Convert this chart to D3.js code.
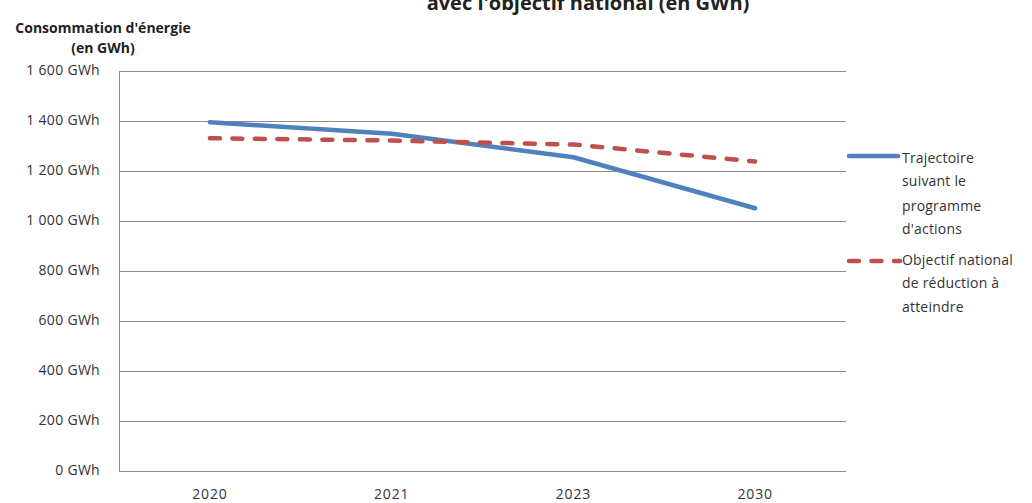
<!DOCTYPE html>
<html><head><meta charset="utf-8">
<script src="https://cdn.jsdelivr.net/npm/d3@7"></script>
<style>
html,body{margin:0;padding:0;background:#fff;}
svg{display:block;}
</style>
</head><body>
<svg id="c" width="1032" height="503"></svg>
<script>
const categories = ["2020", "2021", "2023", "2030"];
const trajectoire = [1393, 1347, 1253, 1049];
const objectif = [1329, 1320, 1304, 1236];
const yTicks = [0, 200, 400, 600, 800, 1000, 1200, 1400, 1600];
const seriesNames = [["Trajectoire", "suivant le", "programme", "d'actions"], ["Objectif national", "de réduction à", "atteindre"]];
const titleText = "avec l'objectif national (en GWh)";
const yTitle = ["Consommation d'énergie", "(en GWh)"];

(function () {
const svg = d3.select("#c");
const mLeft = 119, mRight = 846, mTop = 70.5, mBottom = 470.5;
const font = "'Open Sans', 'Noto Sans', sans-serif";

const x = d3.scaleBand().domain(categories).range([mLeft, mRight]);
const y = d3.scaleLinear().domain([0, 1600]).range([mBottom, mTop]);
const fmt = v => d3.format(",")(v).replace(/,/g, " ") + " GWh";

svg.append("g").selectAll("line").data(yTicks).join("line")
  .attr("x1", mLeft).attr("x2", mRight)
  .attr("y1", d => Math.round(y(d)) + 0.5).attr("y2", d => Math.round(y(d)) + 0.5)
  .attr("stroke", "#8c8c8c").attr("stroke-width", 1);

svg.append("line").attr("x1", mLeft + 0.5).attr("x2", mLeft + 0.5)
  .attr("y1", Math.round(y(1600)) + 0.5).attr("y2", Math.round(y(0)) + 0.5)
  .attr("stroke", "#8c8c8c");

const yAxis = d3.axisLeft(y).tickValues(yTicks).tickFormat(fmt).tickSize(0).tickPadding(19);
const gy = svg.append("g").attr("transform", `translate(${mLeft},0)`).call(yAxis);
gy.select(".domain").remove();
gy.selectAll("text").attr("font-family", font).attr("font-size", 14)
  .attr("letter-spacing", 0.3).attr("fill", "#333");

const xAxis = d3.axisBottom(x).tickSize(0).tickPadding(19);
const gx = svg.append("g").attr("transform", `translate(0,${mBottom})`).call(xAxis);
gx.select(".domain").remove();
gx.selectAll("text").attr("font-family", font).attr("font-size", 14)
  .attr("letter-spacing", 0.8).attr("fill", "#333");

const cx = d => x(d) + x.bandwidth() / 2;
const line = d3.line().x((d, i) => cx(categories[i])).y(d => y(d));

svg.append("path").datum(trajectoire).attr("d", line)
  .attr("fill", "none").attr("stroke", "#4F81BD").attr("stroke-width", 4.5)
  .attr("stroke-linejoin", "round").attr("stroke-linecap", "round");

svg.append("path").datum(objectif).attr("d", line)
  .attr("fill", "none").attr("stroke", "#C0504D").attr("stroke-width", 4.5)
  .attr("stroke-dasharray", "10,12.5")
  .attr("stroke-linejoin", "round").attr("stroke-linecap", "round");

// legend
const leg = svg.append("g");
leg.append("line").attr("x1", 849).attr("x2", 898).attr("y1", 156).attr("y2", 156)
  .attr("stroke", "#4F81BD").attr("stroke-width", 4.5).attr("stroke-linecap", "round");
leg.append("line").attr("x1", 849).attr("x2", 900).attr("y1", 261).attr("y2", 261)
  .attr("stroke", "#C0504D").attr("stroke-width", 4.5).attr("stroke-linecap", "round")
  .attr("stroke-dasharray", "10,12.5");
const legY = [[163, 186, 211, 234], [265, 288, 312]];
seriesNames.forEach((lines, s) => {
  leg.append("g").selectAll("text").data(lines).join("text")
    .attr("x", 902).attr("y", (d, i) => legY[s][i])
    .attr("font-family", font).attr("font-size", 14).attr("letter-spacing", 0.2)
    .attr("fill", "#333").text(d => d);
});

// y title
svg.append("g").selectAll("text").data(yTitle).join("text")
  .attr("x", 103).attr("y", (d, i) => 33 + i * 20)
  .attr("text-anchor", "middle").attr("font-family", font).attr("font-weight", "bold")
  .attr("font-size", 14).attr("fill", "#222").text(d => d);

// title (partly cut off, as in the reference)
svg.append("text").attr("x", 588).attr("y", 10)
  .attr("text-anchor", "middle").attr("font-family", font).attr("font-weight", "bold")
  .attr("font-size", 20).attr("fill", "#222").text(titleText);
})();
</script>
</body></html>
